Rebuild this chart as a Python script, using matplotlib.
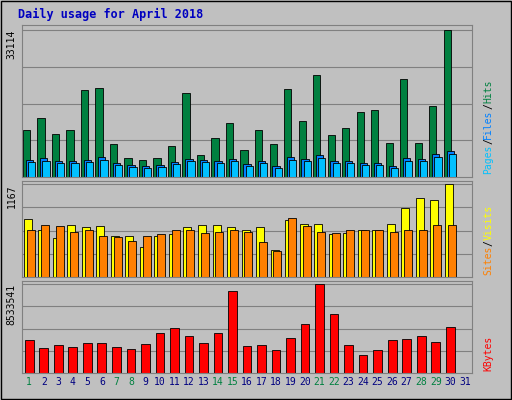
import matplotlib.pyplot as plt
import numpy as np

days = np.arange(1, 32)
weekend = {1, 7, 8, 14, 15, 21, 22, 28, 29}

hits = [10660, 13380, 9750, 10660, 19500, 19960, 7480, 4310, 3860, 4310, 7030, 18820, 4990, 8850,
        12250, 6120, 10660, 7480, 19730, 12700, 22910, 9530, 11110, 14740, 15200, 7710, 22000,
        7710, 16100, 33114, 0]
files = [3860, 4310, 3630, 3630, 3860, 4540, 3180, 2720, 2490, 2720, 3400, 4080, 3860, 3630,
         4080, 2950, 3630, 2490, 4540, 4080, 4990, 3630, 3630, 3180, 3180, 2490, 4310, 4080,
         5220, 5900, 0]
pages = [3300, 3600, 3100, 3100, 3400, 3900, 2700, 2300, 2100, 2300, 2900, 3500, 3300, 3100,
         3500, 2500, 3100, 2100, 3900, 3500, 4300, 3100, 3100, 2700, 2700, 2100, 3700, 3500,
         4500, 5200, 0]
visits = [723, 584, 495, 647, 622, 634, 520, 520, 380, 520, 545, 622, 647, 647, 622, 596, 622,
          342, 710, 660, 660, 545, 558, 596, 584, 660, 863, 990, 964, 1167, 0]
sites = [596, 647, 634, 571, 596, 520, 507, 457, 520, 545, 596, 584, 558, 571, 584, 571, 444,
         330, 736, 634, 571, 558, 584, 584, 596, 571, 584, 584, 647, 647, 0]
kbytes = [3130000, 2360000, 2650000, 2460000, 2850000, 2850000, 2460000, 2270000, 2750000,
          3880000, 4270000, 3590000, 2850000, 3880000, 7860000, 2550000, 2650000, 2170000,
          3400000, 4660000, 8533541, 5620000, 2650000, 1740000, 2170000, 3200000, 3300000,
          3590000, 3010000, 4370000, 0]

BG = '#C0C0C0'
fig = plt.figure(figsize=(5.12, 4.0), dpi=100, facecolor=BG)
fig.add_artist(plt.Rectangle((0.002, 0.002), 0.996, 0.996, fill=False, ec='black', lw=1,
                             transform=fig.transFigure))
fig.text(0.035, 0.965, 'Daily usage for April 2018', color='#0000C0', fontsize=8.5,
         fontweight='bold', family='DejaVu Sans Mono', va='center')

L, W = 22 / 512, 450 / 512
panels = [(25, 177), (181, 277), (281, 373)]
axes = []
for top, bot in panels:
    ax = fig.add_axes([L, 1 - bot / 400, W, (bot - top) / 400])
    ax.set_facecolor(BG)
    ax.set_xlim(0.5, 31.5)
    ax.set_xticks([])
    ax.set_yticks([])
    for s in ax.spines.values():
        s.set_color('#808080')
    axes.append(ax)

edge = dict(edgecolor='black', linewidth=0.6)
a1, a2, a3 = axes

m1 = max(hits)
a1.set_ylim(0, m1 * 151 / 146)
for f in (0.25, 0.5, 0.75, 1.0):
    a1.axhline(m1 * f, color='#808080', lw=0.8, zorder=0)
a1.bar(days - 0.2, hits, 0.5, color='#008040', **edge)
a1.bar(days + 0.0, files, 0.5, color='#0080FF', **edge)
a1.bar(days + 0.15, pages, 0.5, color='#00C0FF', **edge)

m2 = max(visits)
a2.set_ylim(0, m2 * 95 / 92)
for f in (0.25, 0.5, 0.75, 1.0):
    a2.axhline(m2 * f, color='#808080', lw=0.8, zorder=0)
a2.bar(days - 0.1, visits, 0.55, color='#FFFF00', **edge)
a2.bar(days + 0.1, sites, 0.55, color='#FF8000', **edge)

m3 = max(kbytes)
a3.set_ylim(0, m3 * 91 / 88)
for f in (0.25, 0.5, 0.75, 1.0):
    a3.axhline(m3 * f, color='#808080', lw=0.8, zorder=0)
a3.bar(days, kbytes, 0.6, color='#FF0000', **edge)

mono = dict(family='DejaVu Sans Mono', fontsize=7, rotation=90)
for ax, m in ((a1, m1), (a2, m2), (a3, m3)):
    ax.text(-0.012, m, str(int(m)), transform=ax.get_yaxis_transform(), ha='right',
            va='top', **mono)

def right_label(ax, parts):
    # stack colored pieces bottom-up; mono char advance ~5.9 px at 7pt
    y = 0.02
    h = ax.get_position().height * 400
    for txt, col in parts:
        ax.text(1.025, y, txt, transform=ax.transAxes, color=col, ha='left', va='bottom', **mono)
        y += len(txt) * 5.9 / h

right_label(a1, [('Pages', '#00C0FF'), ('/', '#000000'), ('Files', '#0080FF'),
                 ('/', '#000000'), ('Hits', '#008040')])
right_label(a2, [('Sites', '#FF8000'), ('/', '#000000'), ('Visits', '#FFFF00')])
right_label(a3, [('KBytes', '#FF0000')])

for d in days:
    a3.text(d, -0.1, str(d), transform=a3.get_xaxis_transform(), ha='center', va='center',
            fontsize=7, family='DejaVu Sans Mono',
            color='#008040' if d in weekend else '#000080')

fig.savefig('out.png', dpi=100, facecolor=BG)
